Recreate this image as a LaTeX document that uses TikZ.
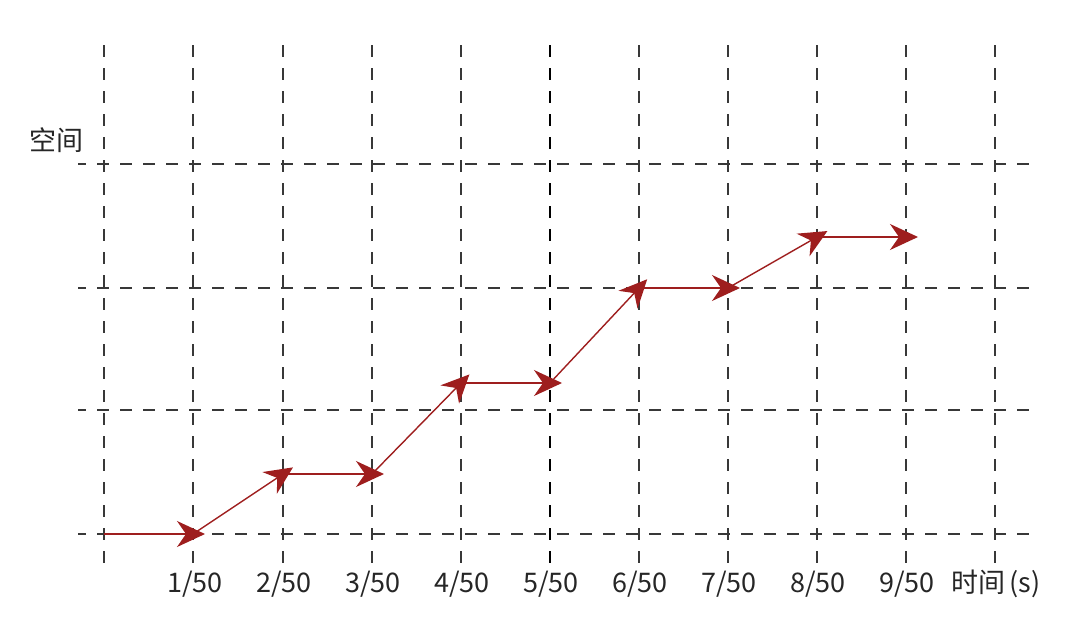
\documentclass[tikz,border=0pt]{standalone}
\usepackage{fontspec}
\setmainfont{Noto Sans CJK SC}
\usetikzlibrary{arrows.meta}
\definecolor{arrowred}{HTML}{9E1E1E}
\definecolor{gridgray}{HTML}{383838}
\tikzset{
  gridline/.style={draw=gridgray, line width=1.5pt, dash pattern=on 12pt off 11pt},
  stepline/.style={draw=arrowred, line width=1.4pt, shorten >=-12pt,
    -{Stealth[length=28pt, width=26pt, inset=9pt, fill=arrowred]}},
  lbl/.style={font=\fontsize{27}{30}\selectfont, text=black!85, inner sep=0pt}
}
\begin{document}
\begin{tikzpicture}[x=1pt, y=-1pt]
\useasboundingbox (0,0) rectangle (1080,633);
% vertical grid lines
\foreach \xx in {104,193,283,372,461,639,728,817,906,995} {
  \draw[gridline] (\xx,45) -- (\xx,563);
}
\draw[gridline, draw=black, line width=2pt] (550,45) -- (550,563);
% horizontal grid lines
\foreach \yy in {164,288,410,534} {
  \draw[gridline, dash phase=4pt] (78,\yy) -- (1030,\yy);
}
% step points
\coordinate (p0) at (104,534);
\coordinate (p1) at (193,534);
\coordinate (p2) at (283,474);
\coordinate (p3) at (372,474);
\coordinate (p4) at (461,383);
\coordinate (p5) at (550,383);
\coordinate (p6) at (639,288);
\coordinate (p7) at (728,288);
\coordinate (p8) at (817,237);
\coordinate (p9) at (906,237);
\draw[stepline] (p0) -- (p1);
\draw[stepline] (p1) -- (p2);
\draw[stepline] (p2) -- (p3);
\draw[stepline] (p3) -- (p4);
\draw[stepline] (p4) -- (p5);
\draw[stepline] (p5) -- (p6);
\draw[stepline] (p6) -- (p7);
\draw[stepline] (p7) -- (p8);
\draw[stepline] (p8) -- (p9);
% labels
\node[lbl] (t1) at (195,584) {1/50};
\node[lbl] (t2) at (284,584) {2/50};
\node[lbl] (t3) at (373,584) {3/50};
\node[lbl] (t4) at (462,584) {4/50};
\node[lbl] (t5) at (551,584) {5/50};
\node[lbl] (t6) at (640,584) {6/50};
\node[lbl] (t7) at (729,584) {7/50};
\node[lbl] (t8) at (818,584) {8/50};
\node[lbl] (t9) at (907,584) {9/50};
\node[lbl, anchor=west] (tt) at (951,584) {时间\,(s)};
\node[lbl, anchor=west] (ts) at (29,140) {空间};
\end{tikzpicture}
\end{document}
